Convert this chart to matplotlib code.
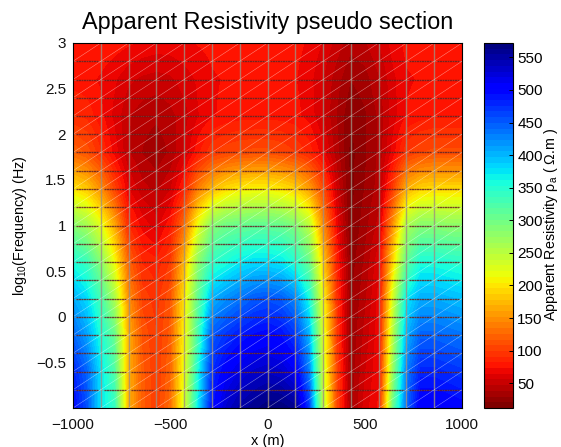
import numpy as np
import matplotlib
matplotlib.use("Agg")
import matplotlib.pyplot as plt

plt.rcParams['font.family'] = ['Liberation Sans', 'DejaVu Sans']
plt.rcParams['mathtext.fontset'] = 'custom'
plt.rcParams['mathtext.rm'] = 'Liberation Sans'
plt.rcParams['mathtext.it'] = 'Liberation Sans'
plt.rcParams['mathtext.default'] = 'regular'

# apparent resistivity, top row is log f = 3, bottom is -1
rho = [
  [82, 81, 80, 78, 75, 72, 70, 70, 72, 74, 76, 78, 78, 78, 78, 78, 76, 72, 64, 52, 42, 46, 56, 68, 76, 78, 78, 80, 82],
  [78, 76, 72, 66, 58, 54, 52, 54, 60, 66, 72, 74, 76, 76, 76, 76, 74, 68, 56, 42, 30, 34, 46, 62, 72, 74, 74, 74, 74],
  [92, 88, 76, 62, 48, 42, 40, 44, 52, 64, 72, 76, 78, 78, 78, 78, 76, 70, 56, 38, 22, 28, 40, 60, 74, 78, 80, 80, 80],
  [125, 115, 92, 70, 48, 38, 32, 40, 56, 80, 98, 106, 110, 112, 112, 108, 100, 88, 68, 42, 18, 28, 40, 68, 98, 108, 112, 112, 112],
  [200, 185, 150, 105, 65, 50, 45, 55, 85, 140, 175, 195, 205, 210, 210, 202, 190, 160, 110, 55, 18, 30, 42, 100, 170, 190, 195, 195, 195],
  [285, 265, 225, 165, 90, 70, 60, 80, 130, 220, 285, 300, 305, 310, 310, 305, 290, 250, 150, 70, 20, 35, 50, 150, 260, 285, 285, 280, 280],
  [355, 335, 285, 215, 125, 90, 85, 100, 175, 280, 340, 355, 370, 378, 378, 372, 350, 305, 190, 85, 25, 40, 62, 190, 310, 355, 355, 350, 345],
  [405, 380, 330, 260, 150, 105, 95, 115, 200, 310, 400, 420, 435, 450, 455, 448, 425, 360, 215, 95, 28, 45, 68, 230, 370, 405, 405, 400, 395],
  [445, 410, 355, 305, 170, 115, 100, 120, 210, 330, 450, 470, 485, 495, 500, 492, 470, 400, 230, 100, 30, 50, 70, 250, 400, 445, 445, 440, 435],
  [480, 445, 375, 320, 170, 120, 100, 125, 220, 360, 475, 505, 520, 530, 535, 530, 510, 430, 240, 105, 32, 55, 72, 270, 430, 480, 480, 475, 470],
  [500, 455, 375, 340, 170, 120, 100, 130, 230, 370, 490, 530, 550, 560, 570, 570, 560, 470, 250, 110, 35, 60, 75, 300, 440, 510, 510, 505, 500],
]

cbarTicks = [50, 100, 150, 200, 250, 300, 350, 400, 450, 500, 550]
xTicks = [-1000, -500, 0, 500, 1000]
yTicks = [-0.5, 0, 0.5, 1, 1.5, 2, 2.5, 3]
yTickLabels = ["\u22120.5", "0", "0.5", "1", "1.5", "2", "2.5", "3"]
xTickLabels = ["\u22121000", "\u2212500", "0", "500", "1000"]

# mesh of the inversion, 14 columns and 20 rows
meshX = np.linspace(-1000, 1000, 15)
meshY = np.linspace(-1, 3, 21)

vmin = 12
vmax = 572


def main():
  fig = plt.figure(figsize=(5.61, 4.47), dpi=100)
  ax = fig.add_axes([73 / 561, 1 - 408 / 447, 389 / 561, 365 / 447])
  cax = fig.add_axes([484 / 561, 1 - 408 / 447, 29 / 561, 365 / 447])

  data = np.array(rho, dtype=float)
  dx = 2000 / (data.shape[1] - 1)
  dy = 4 / (data.shape[0] - 1)
  cmap = plt.get_cmap("jet_r", 64)
  im = ax.imshow(data, cmap=cmap, vmin=vmin, vmax=vmax, aspect="auto", interpolation="bilinear",
                 extent=(-1000 - dx / 2, 1000 + dx / 2, -1 - dy / 2, 3 + dy / 2))

  # mesh lines on top of the image
  for x0 in meshX[1:-1]:
    ax.axvline(x0, color="#a09080", lw=1.0, alpha=0.8)
  for y0 in meshY[1:-1]:
    ax.axhline(y0, color="#a09488", lw=0.6, alpha=0.45)
    for a, b in zip(meshX[:-1], meshX[1:]):
      ax.plot([a + 14, b - 14], [y0, y0], color="#601414", lw=1.0, ls=(0, (1.5, 0.3)), alpha=0.75)
  for i in range(len(meshX) - 1):
    for j in range(len(meshY) - 1):
      ax.plot(meshX[i:i + 2], meshY[j:j + 2], color="white", lw=0.35, alpha=0.55)

  ax.set_xlim(-1000, 1000)
  ax.set_ylim(-1, 3)
  ax.set_xticks(xTicks, xTickLabels)
  ax.set_yticks(yTicks, yTickLabels)
  ax.tick_params(labelsize=11, direction="in", length=0, pad=7, colors="#111111")
  ax.tick_params(axis="y", pad=5)
  for spine in ax.spines.values():
    spine.set_linewidth(0.8)
  ax.set_xlabel("x (m)", fontsize=10.5, labelpad=2)
  ax.set_ylabel("log$_{10}$(Frequency) (Hz)", fontsize=10.4, labelpad=5)
  ax.set_title("Apparent Resistivity pseudo section", fontsize=16.8, pad=10)

  cb = fig.colorbar(im, cax=cax)
  cb.set_ticks(cbarTicks)
  cb.ax.tick_params(labelsize=11, direction="in", length=3, width=0.7, pad=3)
  cb.outline.set_linewidth(0.8)
  fig.text(551 / 561, 1 - 224 / 447, "Apparent Resistivity \u03c1$_a$ ( \u03a9.m )", rotation=90,
           fontsize=10.3, ha="center", va="center")

  fig.savefig("out.png", dpi=100)


if __name__ == "__main__":
  main()
